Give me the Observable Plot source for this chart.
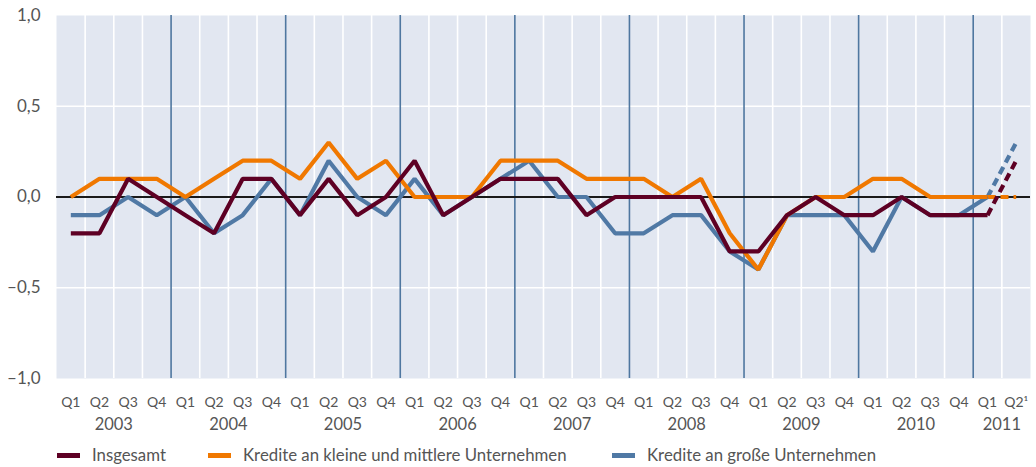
<!DOCTYPE html>
<html>
<head>
<meta charset="utf-8">
<script src="https://cdn.jsdelivr.net/npm/d3@7"></script>
<script src="https://cdn.jsdelivr.net/npm/@observablehq/plot@0.6"></script>
<style>
  body { margin: 0; background: #fff; font-family: Lato, "Open Sans", sans-serif; }
  #wrap { position: relative; width: 1036px; height: 467px; }
  #legend { position: absolute; left: 0; top: 440px; width: 1036px; height: 27px; font-size: 16.8px; color: #555; }
  .sw { position: absolute; top: 13px; width: 23px; height: 5px; }
  .lt { position: absolute; top: 4px; white-space: nowrap; }
</style>
</head>
<body>
<div id="wrap"><div id="chart"></div><div id="legend"></div></div>
<script>
// Quarters 2003 Q1 ... 2011 Q2
const quarterLabels = [
  "Q1","Q2","Q3","Q4","Q1","Q2","Q3","Q4","Q1","Q2","Q3","Q4",
  "Q1","Q2","Q3","Q4","Q1","Q2","Q3","Q4","Q1","Q2","Q3","Q4",
  "Q1","Q2","Q3","Q4","Q1","Q2","Q3","Q4","Q1","Q2¹"
];
const yearLabels = ["2003","2004","2005","2006","2007","2008","2009","2010","2011"];
const yearCenters = [1.5, 5.5, 9.5, 13.5, 17.5, 21.5, 25.5, 29.5, 32.5];
const yTicks = [1, 0.5, 0, -0.5, -1];

const seriesNames = ["Insgesamt", "Kredite an kleine und mittlere Unternehmen", "Kredite an große Unternehmen"];
const insgesamt = [-0.2,-0.2,0.1,0.0, -0.1,-0.2,0.1,0.1, -0.1,0.1,-0.1,0.0, 0.2,-0.1,0.0,0.1,
  0.1,0.1,-0.1,0.0, 0.0,0.0,0.0,-0.3, -0.3,-0.1,0.0,-0.1, -0.1,0.0,-0.1,-0.1, -0.1,0.2];
const kmu = [0.0,0.1,0.1,0.1, 0.0,0.1,0.2,0.2, 0.1,0.3,0.1,0.2, 0.0,0.0,0.0,0.2,
  0.2,0.2,0.1,0.1, 0.1,0.0,0.1,-0.2, -0.4,-0.1,0.0,0.0, 0.1,0.1,0.0,0.0, 0.0,0.0];
const gross = [-0.1,-0.1,0.0,-0.1, 0.0,-0.2,-0.1,0.1, -0.1,0.2,0.0,-0.1, 0.1,-0.1,0.0,0.1,
  0.2,0.0,0.0,-0.2, -0.2,-0.1,-0.1,-0.3, -0.4,-0.1,-0.1,-0.1, -0.3,0.0,-0.1,-0.1, 0.0,0.3];
const colors = ["#5e0024", "#f07800", "#5079a5"];

const idx = quarterLabels.map((_, i) => i);
const boundaries = idx.slice(1).map(i => i - 0.5);
const yearBounds = boundaries.filter(b => (b + 0.5) % 4 === 0);
const quarterBounds = boundaries.filter(b => (b + 0.5) % 4 !== 0);
const lastSolid = 32;

function toRows(vals) { return vals.map((v, i) => ({i, v})); }
const all = [gross, kmu, insgesamt];
const allColors = [colors[2], colors[1], colors[0]];

const marks = [
  Plot.frame({fill: "#e2e7f1", stroke: null}),
  Plot.ruleX(quarterBounds, {x: d => d, stroke: "#fff", strokeWidth: 1.6}),
  Plot.ruleY([0.5, -0.5], {stroke: "#fff", strokeWidth: 1.6}),
  Plot.ruleX(yearBounds, {x: d => d, stroke: "#4f77a0", strokeWidth: 1.6}),
  Plot.ruleY([0], {stroke: "#1a1a1a", strokeWidth: 2})
];
all.forEach((vals, k) => {
  const rows = toRows(vals);
  marks.push(Plot.line(rows.filter(d => d.i >= lastSolid), {x: "i", y: "v", stroke: allColors[k], strokeWidth: 4.2, strokeDasharray: "8,5", strokeLinecap: "butt", strokeLinejoin: "miter"}));
});
all.forEach((vals, k) => {
  const rows = toRows(vals);
  marks.push(Plot.line(rows.filter(d => d.i <= lastSolid), {x: "i", y: "v", stroke: allColors[k], strokeWidth: 4.2, strokeLinecap: "butt", strokeLinejoin: "miter"}));
});
marks.push(
  Plot.axisY(yTicks, {label: null, tickSize: 0, tickPadding: 16, fontSize: 17, fill: "#555",
    tickFormat: d => (d < 0 ? "\u2013" : "") + Math.abs(d).toFixed(1).replace(".", ",")}),
  Plot.text(idx, {x: d => d, text: d => quarterLabels[d], frameAnchor: "bottom", dy: 28, fontSize: 14, fill: "#555"}),
  Plot.text(yearCenters, {x: d => d, text: (d, i) => yearLabels[i], frameAnchor: "bottom", dy: 51, fontSize: 16.5, fill: "#555"})
);

const chart = Plot.plot({
  width: 1036,
  height: 440,
  marginLeft: 56,
  marginRight: 6,
  marginTop: 15,
  marginBottom: 62,
  style: {fontFamily: "Lato, 'Open Sans', sans-serif", background: "#fff"},
  x: {domain: [-0.5, 33.5], axis: null},
  y: {domain: [-1, 1], axis: null},
  marks
});
document.getElementById("chart").appendChild(chart);

const legendPos = [{sw: 57, tx: 92}, {sw: 208, tx: 243}, {sw: 612, tx: 647}];
const legend = document.getElementById("legend");
seriesNames.forEach((name, k) => {
  const s = document.createElement("div");
  s.className = "sw"; s.style.left = legendPos[k].sw + "px"; s.style.background = colors[k];
  const t = document.createElement("div");
  t.className = "lt"; t.style.left = legendPos[k].tx + "px"; t.textContent = name;
  legend.appendChild(s); legend.appendChild(t);
});
</script>
</body>
</html>
